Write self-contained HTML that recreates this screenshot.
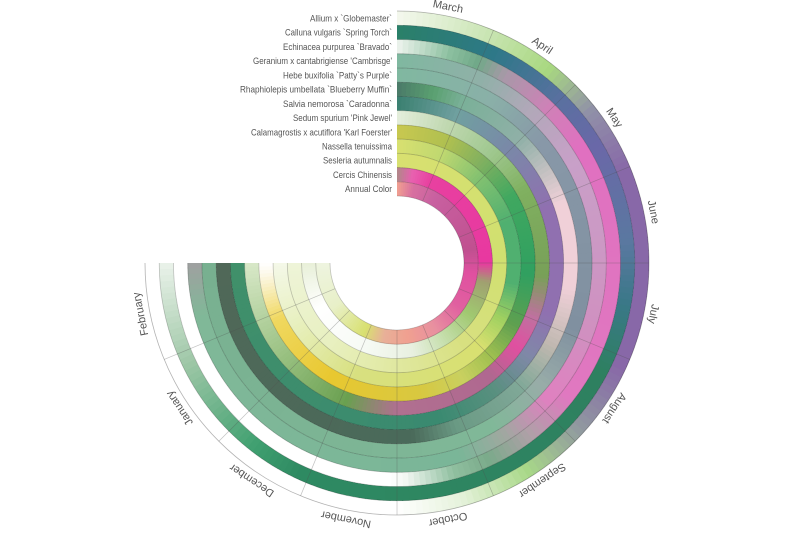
<!DOCTYPE html>
<html><head><meta charset="utf-8">
<style>
html,body{margin:0;padding:0;background:#fff;}
svg{display:block;}
text{font-family:"Liberation Sans",sans-serif;}
</style></head>
<body>
<svg id="s" width="800" height="533" viewBox="0 0 800 533" xmlns="http://www.w3.org/2000/svg">
<g id="rings"></g>
<g id="lines"></g>
<g id="labels" fill="#555" font-size="9.5"></g>
<g id="months" fill="#555" font-size="11"></g>
</svg>
<script>
var CX=397, CY=263, RO=252, RI=67, N=13, W=(RO-RI)/N;
var rings=[
 [[0,'#f4f8ee'],[20,'#cce6b8'],[38,'#a8d880'],[52,'#9090a8'],[68,'#8868a8'],[115,'#8868a8'],[132,'#9098a0'],[148,'#a8d888'],[165,'#e6f2dc'],[180,'#ffffff'],[270,'#ffffff']],
 [[0,'#2a8068'],[25,'#2e7888'],[45,'#5a70a0'],[60,'#6a68a8'],[85,'#5a78a0'],[100,'#3a7888'],[118,'#2e8060'],[205,'#2e8a62'],[218,'#40a070'],[245,'#a0c8a8'],[270,'#eaf2ea']],
 [[0,'#eef4ee'],[14,'#8cc0a0'],[22,'#70a888'],[30,'#a898a8'],[45,'#d080b8'],[58,'#e070c0'],[128,'#e078c0'],[142,'#b0a0a8'],[155,'#7aaa8a'],[165,'#90c0a0'],[178,'#f4f8f4'],[182,'#ffffff'],[270,'#ffffff']],
 [[0,'#80b8a0'],[25,'#90b0a8'],[40,'#b0a8b8'],[60,'#c8a0c8'],[110,'#d090c0'],[132,'#e080c0'],[148,'#a0a8a0'],[162,'#7ab698'],[255,'#80b898'],[270,'#a0a0a0']],
 [[0,'#80b8a0'],[30,'#8ab0a8'],[50,'#8898a8'],[110,'#8090a0'],[130,'#98aca8'],[150,'#80b898'],[270,'#78b090']],
 [[0,'#4a7a68'],[12,'#5aa070'],[22,'#7ab098'],[45,'#90b0a8'],[70,'#f0d0d8'],[98,'#f0d0d8'],[118,'#c0b8b0'],[135,'#80a898'],[160,'#6a9a84'],[175,'#4a6a5a'],[270,'#506858']],
 [[0,'#3a8070'],[22,'#70a0a0'],[45,'#7a88a8'],[70,'#9070b0'],[108,'#9070b0'],[125,'#8088a8'],[142,'#5a9080'],[165,'#3a8a70'],[270,'#40906a']],
 [[0,'#e4eedc'],[20,'#c0d8b0'],[40,'#a0c890'],[60,'#80b060'],[95,'#78a058'],[112,'#c070a0'],[125,'#e050a0'],[140,'#b06890'],[180,'#b07090'],[200,'#6aa050'],[230,'#98c080'],[270,'#d8e8c8']],
 [[0,'#c8c850'],[22,'#b0c050'],[40,'#80b060'],[60,'#40a860'],[95,'#30a060'],[118,'#60a050'],[135,'#a0c050'],[150,'#c8d060'],[170,'#d8c840'],[210,'#e8c830'],[245,'#f0d860'],[265,'#fcf8e8'],[270,'#ffffff']],
 [[0,'#d8e070'],[22,'#c0d870'],[45,'#80c070'],[70,'#50b070'],[100,'#50b070'],[118,'#a0d060'],[135,'#d8e070'],[200,'#d8e080'],[240,'#e8f0c0'],[270,'#f4f8e8']],
 [[0,'#d8e070'],[90,'#d0e070'],[140,'#d8e080'],[180,'#e0e8a0'],[220,'#e8f0c0'],[270,'#eef4d8']],
 [[0,'#b08888'],[10,'#e860b0'],[22,'#e840a0'],[90,'#e838a0'],[102,'#a0a070'],[125,'#a0c870'],[150,'#c8e0b0'],[170,'#e8f0e0'],[200,'#f6faf4'],[240,'#ffffff'],[270,'#e8f0d8']],
 [[0,'#f0a090'],[12,'#d870a0'],[30,'#c860a0'],[80,'#c05090'],[98,'#e050a0'],[125,'#e060a0'],[150,'#e890a0'],[172,'#f0a090'],[190,'#e8b098'],[205,'#d8e070'],[235,'#e8f0c8'],[270,'#eef4e0']]
];
function hex(c){return [parseInt(c.substr(1,2),16),parseInt(c.substr(3,2),16),parseInt(c.substr(5,2),16)];}
function col(st,a){
 for(var i=0;i<st.length-1;i++){
  if(a<=st[i+1][0]){var t=(a-st[i][0])/(st[i+1][0]-st[i][0]);var c1=hex(st[i][1]),c2=hex(st[i+1][1]);
   return 'rgb('+[0,1,2].map(function(k){return Math.round(c1[k]+(c2[k]-c1[k])*t)}).join(',')+')';}
 }
 return st[st.length-1][1];
}
function pt(r,a){var rad=a*Math.PI/180;return (CX+r*Math.sin(rad)).toFixed(2)+','+(CY-r*Math.cos(rad)).toFixed(2);}
function wedge(r1,r2,a1,a2){
 return 'M'+pt(r2,a1)+'A'+r2+','+r2+' 0 0 1 '+pt(r2,a2)+'L'+pt(r1,a2)+'A'+r1+','+r1+' 0 0 0 '+pt(r1,a1)+'Z';
}
var h='';
var step=1.5;
for(var i=0;i<N;i++){
 var r2=RO-W*i, r1=r2-W;
 for(var a=0;a<270;a+=step){
  var c=col(rings[i],a+step/2);
  var a2=Math.min(a+step+0.3,270);
  h+='<path d="'+wedge(r1,r2,a,a2)+'" fill="'+c+'"/>';
 }
}
document.getElementById('rings').innerHTML=h;
var l='';
for(var i=0;i<=N;i++){
 var r=RO-W*i;
 l+='<path d="M'+pt(r,0)+'A'+r+','+r+' 0 1 1 '+pt(r,270)+'" fill="none" stroke="rgba(0,0,0,'+(i==0?0.3:0.22)+')" stroke-width="0.8"/>';
}
for(var k=1;k<12;k++){
 var a=k*22.5;
 l+='<line x1="'+pt(RI,a).split(',')[0]+'" y1="'+pt(RI,a).split(',')[1]+'" x2="'+pt(RO,a).split(',')[0]+'" y2="'+pt(RO,a).split(',')[1]+'" stroke="rgba(80,80,80,0.35)" stroke-width="0.7"/>';
}
document.getElementById('lines').innerHTML=l;
var names=["Allium x `Globemaster`","Calluna vulgaris `Spring Torch`","Echinacea purpurea `Bravado`","Geranium x cantabrigiense 'Cambrisge'","Hebe buxifolia `Patty`s Purple`","Rhaphiolepis umbellata `Blueberry Muffin`","Salvia nemorosa `Caradonna`","Sedum spurium 'Pink Jewel'","Calamagrostis x acutiflora 'Karl Foerster'","Nassella tenuissima","Sesleria autumnalis","Cercis Chinensis","Annual Color"];
var lefts=[310,285,283,253,283,240,283,293,251,322,323,333,345];
var t='';
for(var i=0;i<N;i++){
 var y=CY-(RO-W*i-W/2)+3.3;
 t+='<text x="392" y="'+y.toFixed(1)+'" text-anchor="end" textLength="'+(392-lefts[i])+'" lengthAdjust="spacingAndGlyphs">'+names[i].replace(/&/g,'&amp;').replace(/</g,'&lt;')+'</text>';
}
document.getElementById('labels').innerHTML=t;
var months=["March","April","May","June","July","August","September","October","November","December","January","February"];
var m='';
for(var k=0;k<12;k++){
 var a=11.25+22.5*k;
 m+='<text x="'+CX+'" y="'+(CY-258)+'" text-anchor="middle" transform="rotate('+a+' '+CX+' '+CY+')">'+months[k]+'</text>';
}
document.getElementById('months').innerHTML=m;
</script>
</body></html>
